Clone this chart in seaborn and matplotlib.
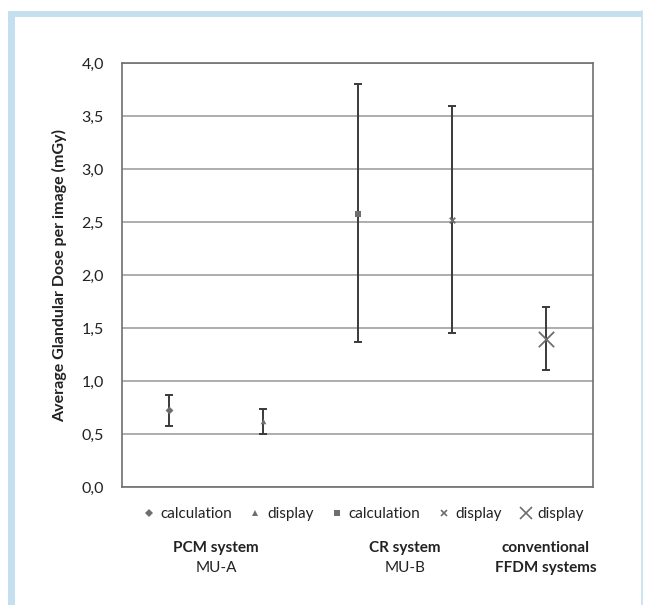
import matplotlib
matplotlib.use("Agg")
import matplotlib.pyplot as plt
import matplotlib.patches as mpatches
from matplotlib.lines import Line2D
from matplotlib.ticker import FuncFormatter
import seaborn as sns
import pandas as pd

# ---- data ----
categories = ["PCM calculation", "PCM display", "CR calculation", "CR display", "FFDM display"]
legend_labels = ["calculation", "display", "calculation", "display", "display"]
mean_dose = [0.73, 0.62, 2.58, 2.52, 1.40]
low_dose = [0.58, 0.50, 1.37, 1.45, 1.10]
high_dose = [0.87, 0.74, 3.80, 3.59, 1.70]
group_titles = ["PCM system", "CR system", "conventional"]
group_subtitles = ["MU-A", "MU-B", "FFDM systems"]
y_ticks = [0.0, 0.5, 1.0, 1.5, 2.0, 2.5, 3.0, 3.5, 4.0]

df = pd.DataFrame({"cat": categories, "mean": mean_dose, "lo": low_dose, "hi": high_dose})
df["x"] = range(len(df))

sns.set_theme(style="white")
plt.rcParams["font.family"] = ["Lato", "DejaVu Sans"]

fig = plt.figure(figsize=(6.45, 6.05), dpi=100)
fig.patch.set_facecolor("white")
# light blue frame (left and top band, thin right)
fig.add_artist(mpatches.Rectangle((8 / 645, 0), 7 / 645, (605 - 11) / 605, transform=fig.transFigure,
                                  facecolor="#c3dff0", edgecolor="none"))
fig.add_artist(mpatches.Rectangle((8 / 645, (605 - 17) / 605), (642 - 8) / 645, 6 / 605, transform=fig.transFigure,
                                  facecolor="#c3dff0", edgecolor="none"))
fig.add_artist(Line2D([642 / 645, 642 / 645], [0, (605 - 11) / 605], transform=fig.transFigure,
                      color="#c3dff0", lw=1.2))

ax = fig.add_axes([122 / 645, 1 - 487 / 605, (593 - 122) / 645, (487 - 63) / 605])
ax.set_facecolor("white")

markers = ["D", "^", "s", "x", "x"]
msizes = [4, 4, 4, 4, 11]
mcolor = "#6e6e6e"

handles = []
for i, row in df.iterrows():
    ax.errorbar(row["x"], row["mean"], yerr=[[row["mean"] - row["lo"]], [row["hi"] - row["mean"]]],
                fmt="none", ecolor="#3a3a3a", elinewidth=1.4, capsize=3.2, capthick=1.4, zorder=3)
    sns.scatterplot(x=[row["x"]], y=[row["mean"]], ax=ax, marker=markers[i], s=msizes[i] ** 2,
                    color=mcolor, edgecolor=mcolor, linewidth=1.3 if markers[i] == "x" else 0, zorder=4)
    handles.append(Line2D([], [], marker=markers[i], linestyle="none", color=mcolor,
                          markersize=msizes[i] + 0.5 if i < 4 else 9,
                          markeredgewidth=1.2 if markers[i] == "x" else 0))

ax.set_xlim(-0.5, len(df) - 0.5)
ax.set_ylim(0, 4.0)
ax.set_yticks(y_ticks)
ax.yaxis.set_major_formatter(FuncFormatter(lambda v, p: f"{v:.1f}".replace(".", ",")))
ax.set_xticks([])
ax.grid(axis="y", color="#a0a0a0", lw=1.2)
ax.set_axisbelow(True)
for side in ["left", "bottom", "right", "top"]:
    ax.spines[side].set_visible(True)
    ax.spines[side].set_color("#707070")
    ax.spines[side].set_linewidth(1.2)
ax.tick_params(axis="y", length=0, pad=13, labelsize=11.5, labelcolor="#222222")
ax.set_ylabel("Average Glandular Dose per image (mGy)", fontsize=11.5, fontweight="bold",
              color="#222222", labelpad=10)

fig.legend(handles, legend_labels, loc="center", bbox_to_anchor=(363 / 645, 1 - 514 / 605),
           ncol=5, frameon=False, fontsize=11, handlelength=0.8, handletextpad=0.35,
           columnspacing=1.15, labelcolor="#222222")

# group labels
group_x = [0.5, 2.5, 4.0]
for gx, t, s in zip(group_x, group_titles, group_subtitles):
    ax.text(gx, -0.58, t, ha="center", va="center", fontsize=11, fontweight="bold", color="#222222")
    ax.text(gx, -0.76, s, ha="center", va="center", fontsize=11,
            fontweight="bold" if gx == 4.0 else "normal", color="#222222")

fig.savefig("out.png", dpi=100, facecolor="white")
